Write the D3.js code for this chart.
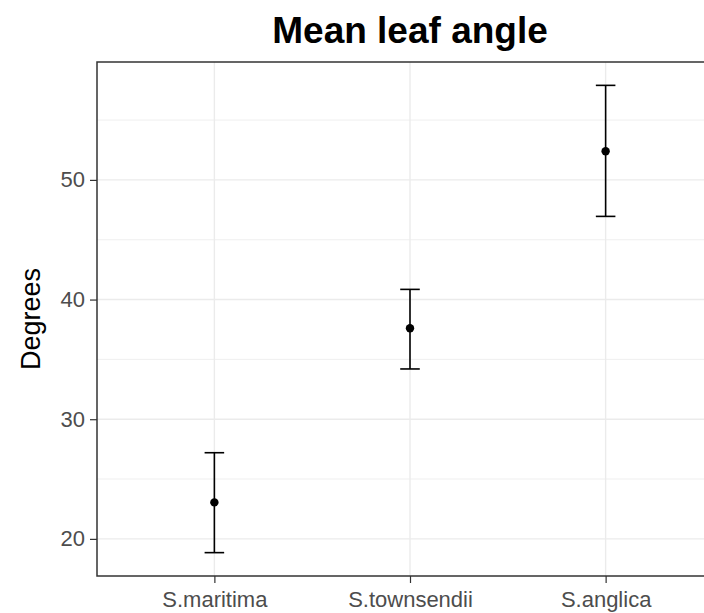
<!DOCTYPE html>
<html>
<head>
<meta charset="utf-8">
<script src="https://cdn.jsdelivr.net/npm/d3@7"></script>
<style>
  body { margin: 0; background: #fff; }
  svg { display: block; font-family: "Liberation Sans", Arial, sans-serif; }
</style>
</head>
<body>
<svg width="704" height="613"></svg>
<script>
// data
const species = ['S.maritima', 'S.townsendii', 'S.anglica'];
const means = [23.05, 37.6, 52.4];
const lower = [18.85, 34.2, 46.95];
const upper = [27.2, 40.85, 57.9];
const yTicks = [20, 30, 40, 50];
const yMinor = [25, 35, 45, 55];

const data = species.map((s, i) => ({ sp: s, m: means[i], lo: lower[i], hi: upper[i] }));

const svg = d3.select('svg');
const panelL = 97, panelR = 723, panelT = 62, panelB = 576;

// discrete x, ggplot style expansion of 0.6 units each side
const x = d3.scalePoint().domain(species).range([panelL, panelR]).padding(0.6);
const step = x.step();

const lo = d3.min(lower), hi = d3.max(upper);
const pad = (hi - lo) * 0.05;
const y = d3.scaleLinear().domain([lo - pad, hi + pad]).range([panelB, panelT]);

// grid
const grid = svg.append('g');
grid.selectAll('.minor').data(yMinor).enter().append('line')
    .attr('x1', panelL).attr('x2', panelR)
    .attr('y1', d => y(d)).attr('y2', d => y(d))
    .attr('stroke', '#ebebeb').attr('stroke-width', 0.8);
grid.selectAll('.major').data(yTicks).enter().append('line')
    .attr('x1', panelL).attr('x2', panelR)
    .attr('y1', d => y(d)).attr('y2', d => y(d))
    .attr('stroke', '#ebebeb').attr('stroke-width', 1.4);
grid.selectAll('.vmajor').data(species).enter().append('line')
    .attr('x1', d => x(d)).attr('x2', d => x(d))
    .attr('y1', panelT).attr('y2', panelB)
    .attr('stroke', '#ebebeb').attr('stroke-width', 1.4);

// error bars
const capW = step * 0.1;
const eb = svg.append('g').attr('stroke', '#000').attr('stroke-width', 1.6);
eb.selectAll('.v').data(data).enter().append('line')
    .attr('x1', d => x(d.sp)).attr('x2', d => x(d.sp))
    .attr('y1', d => y(d.lo)).attr('y2', d => y(d.hi));
eb.selectAll('.t').data(data).enter().append('line')
    .attr('x1', d => x(d.sp) - capW / 2).attr('x2', d => x(d.sp) + capW / 2)
    .attr('y1', d => y(d.hi)).attr('y2', d => y(d.hi));
eb.selectAll('.b').data(data).enter().append('line')
    .attr('x1', d => x(d.sp) - capW / 2).attr('x2', d => x(d.sp) + capW / 2)
    .attr('y1', d => y(d.lo)).attr('y2', d => y(d.lo));

svg.append('g').selectAll('circle').data(data).enter().append('circle')
    .attr('cx', d => x(d.sp)).attr('cy', d => y(d.m)).attr('r', 4.2)
    .attr('fill', '#000');

// panel border
svg.append('rect')
    .attr('x', panelL).attr('y', panelT)
    .attr('width', panelR - panelL).attr('height', panelB - panelT)
    .attr('fill', 'none').attr('stroke', '#333').attr('stroke-width', 1.5);

// axes
const yAxis = svg.append('g').attr('transform', `translate(${panelL},0)`)
    .call(d3.axisLeft(y).tickValues(yTicks).tickSize(7).tickPadding(5));
const xAxis = svg.append('g').attr('transform', `translate(0,${panelB})`)
    .call(d3.axisBottom(x).tickSize(7).tickPadding(4));
[yAxis, xAxis].forEach(a => {
    a.select('.domain').remove();
    a.selectAll('.tick line').attr('stroke', '#333').attr('stroke-width', 1.2);
    a.selectAll('.tick text').attr('fill', '#4d4d4d')
        .style('font-size', '22px').style('font-family', '"Liberation Sans", Arial, sans-serif');
});
xAxis.selectAll('.tick text').attr('dy', null).attr('y', 31);

// titles
svg.append('text')
    .attr('x', (panelL + panelR) / 2).attr('y', 43)
    .attr('text-anchor', 'middle')
    .style('font-size', '37px').style('font-weight', 'bold')
    .attr('fill', '#000')
    .text('Mean leaf angle');

svg.append('text')
    .attr('transform', `translate(40,${(panelT + panelB) / 2}) rotate(-90)`)
    .attr('text-anchor', 'middle')
    .style('font-size', '27px')
    .attr('fill', '#000')
    .text('Degrees');
</script>
</body>
</html>
